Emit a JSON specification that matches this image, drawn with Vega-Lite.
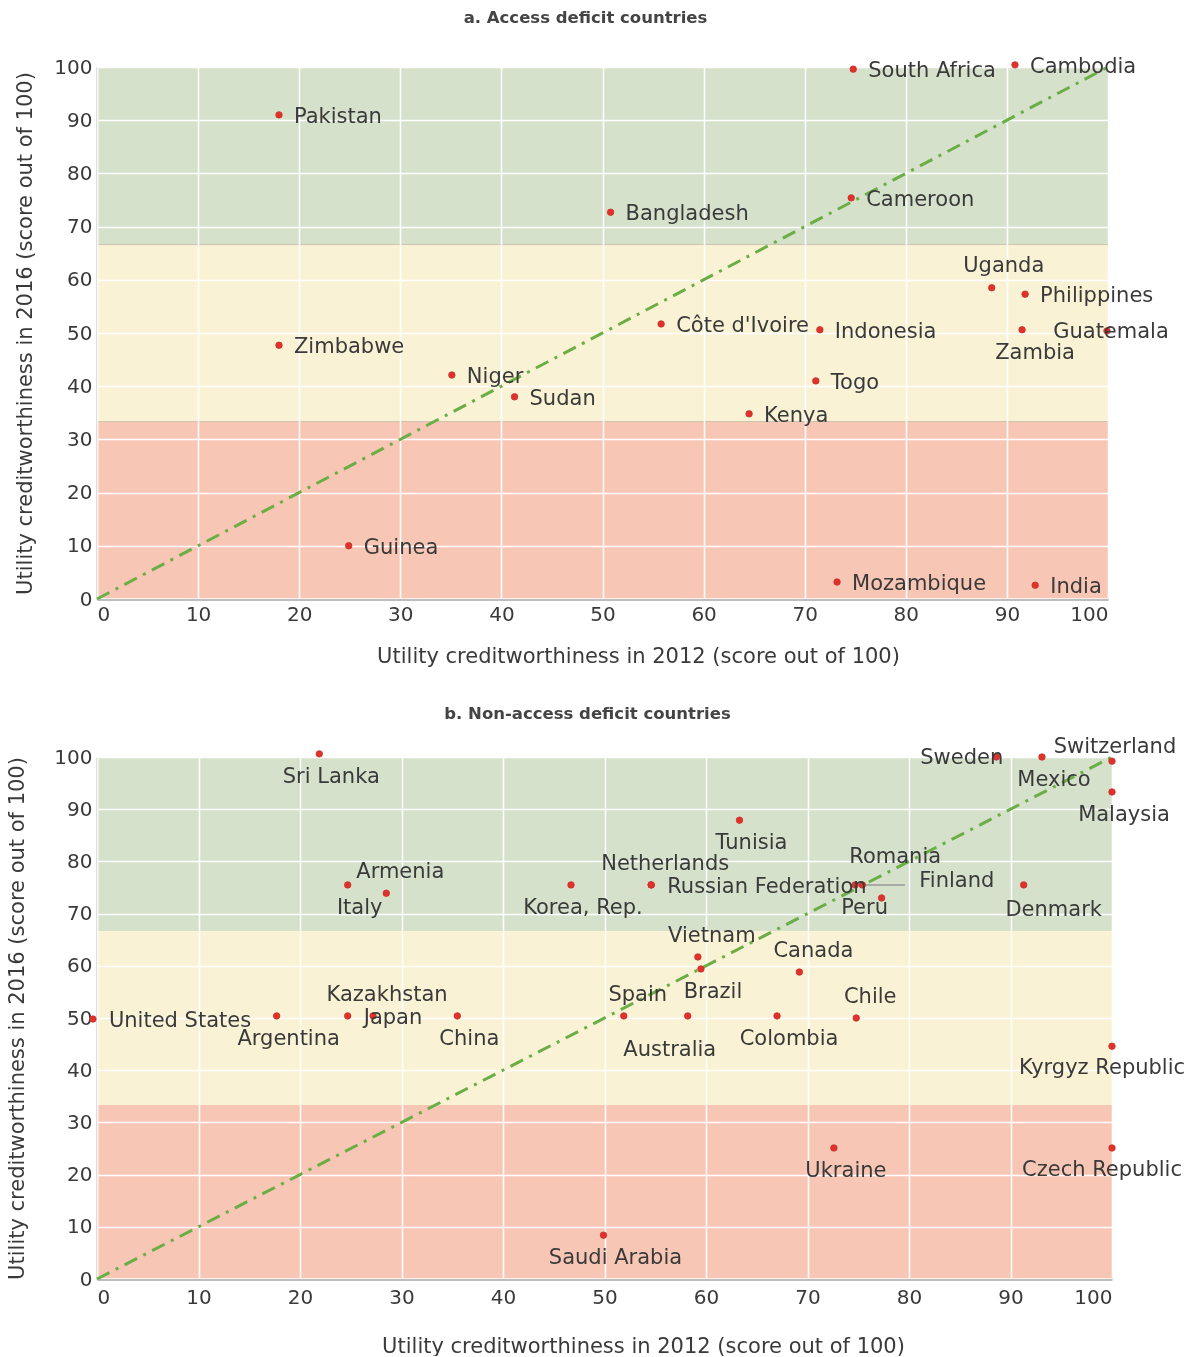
{
  "$schema": "https://vega.github.io/schema/vega-lite/v6.json",
  "background": "white",
  "padding": {"left": 6, "top": 10, "right": 0, "bottom": 0},
  "config": {
    "font": "DejaVu Sans",
    "view": {"stroke": null, "fill": "#000000"},
    "axis": {
      "grid": true,
      "gridColor": "#ffffff",
      "gridOpacity": 1,
      "gridWidth": 1.5,
      "domainColor": "#bdbdbd",
      "domainWidth": 3,
      "ticks": false,
      "labelFont": "DejaVu Sans",
      "labelFontSize": 20,
      "labelColor": "#3a3a3a",
      "labelPadding": 5,
      "titleFont": "DejaVu Sans",
      "titleFontSize": 21,
      "titleColor": "#3a3a3a",
      "titleFontWeight": "normal"
    },
    "title": {"font": "DejaVu Sans", "fontSize": 16.5, "fontWeight": "bold", "color": "#444444", "anchor": "middle"},
    "text": {"fontSize": 21, "color": "#3a3a3a", "font": "DejaVu Sans", "baseline": "middle"},
    "concat": {"spacing": 39}
  },
  "datasets": {
    "bands": [
      {"zone": "low", "xmin": 0, "xmax": 100, "lo": 0, "hi": 33.33},
      {"zone": "mid", "xmin": 0, "xmax": 100, "lo": 33.33, "hi": 66.67},
      {"zone": "high", "xmin": 0, "xmax": 100, "lo": 66.67, "hi": 100}
    ],
    "diag": [{"x": 0, "y": 0}, {"x": 100, "y": 100}],
    "a": [
      {"country": "Pakistan", "x": 18.0, "y": 91.0},
      {"country": "South Africa", "x": 74.8, "y": 99.6},
      {"country": "Cambodia", "x": 90.8, "y": 100.4},
      {"country": "Bangladesh", "x": 50.8, "y": 72.7},
      {"country": "Cameroon", "x": 74.6, "y": 75.4},
      {"country": "Uganda", "x": 88.5, "y": 58.5},
      {"country": "Philippines", "x": 91.8, "y": 57.3},
      {"country": "Zambia", "x": 91.5, "y": 50.6},
      {"country": "Guatemala", "x": 99.9, "y": 50.4},
      {"country": "Côte d'Ivoire", "x": 55.8, "y": 51.7},
      {"country": "Indonesia", "x": 71.5, "y": 50.6},
      {"country": "Zimbabwe", "x": 18.0, "y": 47.7},
      {"country": "Niger", "x": 35.1, "y": 42.1},
      {"country": "Sudan", "x": 41.3, "y": 38.0},
      {"country": "Togo", "x": 71.1, "y": 41.0},
      {"country": "Kenya", "x": 64.5, "y": 34.8},
      {"country": "Guinea", "x": 24.9, "y": 10.0},
      {"country": "Mozambique", "x": 73.2, "y": 3.2},
      {"country": "India", "x": 92.8, "y": 2.6}
    ],
    "b": [
      {"country": "United States", "x": -0.4, "y": 49.8},
      {"country": "Sri Lanka", "x": 21.9, "y": 100.6},
      {"country": "Argentina", "x": 17.7, "y": 50.4},
      {"country": "Japan", "x": 24.7, "y": 50.4},
      {"country": "Kazakhstan", "x": 27.2, "y": 50.4},
      {"country": "China", "x": 35.5, "y": 50.4},
      {"country": "Italy", "x": 24.7, "y": 75.5},
      {"country": "Armenia", "x": 28.5, "y": 73.9},
      {"country": "Korea, Rep.", "x": 46.7, "y": 75.5},
      {"country": "Netherlands", "x": 54.6, "y": 75.5},
      {"country": "Russian Federation", "x": 54.6, "y": 75.5},
      {"country": "Tunisia", "x": 63.3, "y": 87.9},
      {"country": "Vietnam", "x": 59.2, "y": 61.7},
      {"country": "Brazil", "x": 59.5, "y": 59.4},
      {"country": "Spain", "x": 51.9, "y": 50.4},
      {"country": "Australia", "x": 58.2, "y": 50.4},
      {"country": "Colombia", "x": 67.0, "y": 50.4},
      {"country": "Canada", "x": 69.2, "y": 58.8},
      {"country": "Chile", "x": 74.8, "y": 50.0},
      {"country": "Romania", "x": 74.7, "y": 75.5},
      {"country": "Finland", "x": 75.4, "y": 75.5},
      {"country": "Peru", "x": 77.3, "y": 73.0},
      {"country": "Denmark", "x": 91.3, "y": 75.5},
      {"country": "Sweden", "x": 88.6, "y": 100.0},
      {"country": "Mexico", "x": 93.1, "y": 100.0},
      {"country": "Switzerland", "x": 100, "y": 99.2},
      {"country": "Malaysia", "x": 100, "y": 93.3},
      {"country": "Kyrgyz Republic", "x": 100, "y": 44.6},
      {"country": "Ukraine", "x": 72.6, "y": 25.1},
      {"country": "Czech Republic", "x": 100, "y": 25.1},
      {"country": "Saudi Arabia", "x": 49.9, "y": 8.4}
    ]
  },
  "vconcat": [
    {
      "title": {"text": "a. Access deficit countries", "offset": 29, "dx": -17},
      "width": 1011,
      "height": 532,
      "encoding": {
        "x": {"field": "x", "type": "quantitative",
          "scale": {"domain": [0, 100], "nice": false},
          "axis": {"values": [0,10,20,30,40,50,60,70,80,90,100], "title": "Utility creditworthiness in 2012 (score out of 100)", "titlePadding": 21, "titleX": 541}},
        "y": {"field": "y", "type": "quantitative",
          "scale": {"domain": [0, 100], "nice": false},
          "axis": {"values": [0,10,20,30,40,50,60,70,80,90,100], "title": "Utility creditworthiness in 2016 (score out of 100)", "titlePadding": 18, "domainWidth": 2}}
      },
      "layer": [
        {
          "data": {"name": "bands"},
          "mark": {"type": "rect", "blend": "screen"},
          "encoding": {
            "x": {"field": "xmin", "type": "quantitative"},
            "x2": {"field": "xmax"},
            "y": {"field": "lo", "type": "quantitative"},
            "y2": {"field": "hi"},
            "color": {"field": "zone", "type": "nominal", "scale": {"domain": ["low", "mid", "high"], "range": ["#f7c6b4", "#f9f2d4", "#d6e1cc"]}, "legend": null}
          }
        },
        {
          "data": {"name": "diag"},
          "mark": {"type": "line", "color": "#6aae45", "strokeWidth": 3, "strokeDash": [14, 7, 3, 7]},
          "encoding": {}
        },
        {
          "data": {"name": "a"},
          "mark": {"type": "circle", "size": 42, "color": "#e0322a", "opacity": 1, "stroke": "#c8302a", "strokeWidth": 0.8}
        },
        {
          "data": {"name": "a"},
          "transform": [{"filter": {"not": {"field": "country", "oneOf": ["Uganda", "Zambia", "Guatemala"]}}}],
          "mark": {"type": "text", "align": "left", "dx": 15, "dy": 2},
          "encoding": {"text": {"field": "country"}}
        },
        {
          "data": {"name": "a"},
          "transform": [{"filter": {"field": "country", "oneOf": ["Uganda"]}}],
          "mark": {"type": "text", "align": "center", "dx": 12, "dy": -22},
          "encoding": {"text": {"field": "country"}}
        },
        {
          "data": {"name": "a"},
          "transform": [{"filter": {"field": "country", "oneOf": ["Zambia"]}}],
          "mark": {"type": "text", "align": "center", "dx": 13, "dy": 23},
          "encoding": {"text": {"field": "country"}}
        },
        {
          "data": {"name": "a"},
          "transform": [{"filter": {"field": "country", "oneOf": ["Guatemala"]}}],
          "mark": {"type": "text", "align": "center", "dx": 4, "dy": 1},
          "encoding": {"text": {"field": "country"}}
        }
      ]
    },
    {
      "title": {"text": "b. Non-access deficit countries", "offset": 14, "dx": -17},
      "width": 1015,
      "height": 522,
      "encoding": {
        "x": {"field": "x", "type": "quantitative",
          "scale": {"domain": [0, 100], "nice": false},
          "axis": {"values": [0,10,20,30,40,50,60,70,80,90,100], "title": "Utility creditworthiness in 2012 (score out of 100)", "labelPadding": 8, "titlePadding": 28, "titleX": 546}},
        "y": {"field": "y", "type": "quantitative",
          "scale": {"domain": [0, 100], "nice": false},
          "axis": {"values": [0,10,20,30,40,50,60,70,80,90,100], "title": "Utility creditworthiness in 2016 (score out of 100)", "titlePadding": 26, "domainWidth": 2}}
      },
      "layer": [
        {
          "data": {"name": "bands"},
          "mark": {"type": "rect", "blend": "screen"},
          "encoding": {
            "x": {"field": "xmin", "type": "quantitative"},
            "x2": {"field": "xmax"},
            "y": {"field": "lo", "type": "quantitative"},
            "y2": {"field": "hi"},
            "color": {"field": "zone", "type": "nominal", "scale": {"domain": ["low", "mid", "high"], "range": ["#f7c6b4", "#f9f2d4", "#d6e1cc"]}, "legend": null}
          }
        },
        {
          "data": {"name": "diag"},
          "mark": {"type": "line", "color": "#6aae45", "strokeWidth": 3, "strokeDash": [14, 7, 3, 7]},
          "encoding": {}
        },
        {
          "data": {"name": "b"},
          "transform": [{"filter": {"field": "country", "oneOf": ["Finland"]}}],
          "mark": {"type": "rule", "color": "#999999", "strokeWidth": 1.5},
          "encoding": {"x2": {"datum": 79.6}}
        },
        {
          "data": {"name": "b"},
          "mark": {"type": "circle", "size": 42, "color": "#e0322a", "opacity": 1, "stroke": "#c8302a", "strokeWidth": 0.8}
        },
        {
          "data": {"name": "b"},
          "transform": [{"filter": {"field": "country", "oneOf": ["United States", "Japan", "Russian Federation"]}}],
          "mark": {"type": "text", "align": "left", "dx": 16, "dy": 2},
          "encoding": {"text": {"field": "country"}}
        },
        {
          "data": {"name": "b"},
          "transform": [{"filter": {"field": "country", "oneOf": ["Sri Lanka", "Argentina", "Korea, Rep.", "China", "Tunisia", "Brazil", "Colombia", "Italy", "Ukraine", "Saudi Arabia", "Malaysia", "Mexico"]}}],
          "mark": {"type": "text", "align": "center", "dx": 12, "dy": 23},
          "encoding": {"text": {"field": "country"}}
        },
        {
          "data": {"name": "b"},
          "transform": [{"filter": {"field": "country", "oneOf": ["Kazakhstan", "Armenia", "Netherlands", "Vietnam", "Spain", "Canada", "Chile"]}}],
          "mark": {"type": "text", "align": "center", "dx": 14, "dy": -21},
          "encoding": {"text": {"field": "country"}}
        },
        {
          "data": {"name": "b"},
          "transform": [{"filter": {"field": "country", "oneOf": ["Switzerland"]}}],
          "mark": {"type": "text", "align": "center", "dx": 3, "dy": -14},
          "encoding": {"text": {"field": "country"}}
        },
        {
          "data": {"name": "b"},
          "transform": [{"filter": {"field": "country", "oneOf": ["Romania"]}}],
          "mark": {"type": "text", "align": "center", "dx": 40, "dy": -28},
          "encoding": {"text": {"field": "country"}}
        },
        {
          "data": {"name": "b"},
          "transform": [{"filter": {"field": "country", "oneOf": ["Finland"]}}],
          "mark": {"type": "text", "align": "left", "dx": 57, "dy": -4},
          "encoding": {"text": {"field": "country"}}
        },
        {
          "data": {"name": "b"},
          "transform": [{"filter": {"field": "country", "oneOf": ["Sweden"]}}],
          "mark": {"type": "text", "align": "right", "dx": 7, "dy": 1},
          "encoding": {"text": {"field": "country"}}
        },
        {
          "data": {"name": "b"},
          "transform": [{"filter": {"field": "country", "oneOf": ["Peru"]}}],
          "mark": {"type": "text", "align": "center", "dx": -17, "dy": 10},
          "encoding": {"text": {"field": "country"}}
        },
        {
          "data": {"name": "b"},
          "transform": [{"filter": {"field": "country", "oneOf": ["Australia"]}}],
          "mark": {"type": "text", "align": "center", "dx": -18, "dy": 34},
          "encoding": {"text": {"field": "country"}}
        },
        {
          "data": {"name": "b"},
          "transform": [{"filter": {"field": "country", "oneOf": ["Denmark"]}}],
          "mark": {"type": "text", "align": "center", "dx": 30, "dy": 25},
          "encoding": {"text": {"field": "country"}}
        },
        {
          "data": {"name": "b"},
          "transform": [{"filter": {"field": "country", "oneOf": ["Kyrgyz Republic", "Czech Republic"]}}],
          "mark": {"type": "text", "align": "center", "dx": -10, "dy": 22},
          "encoding": {"text": {"field": "country"}}
        }
      ]
    }
  ]
}
